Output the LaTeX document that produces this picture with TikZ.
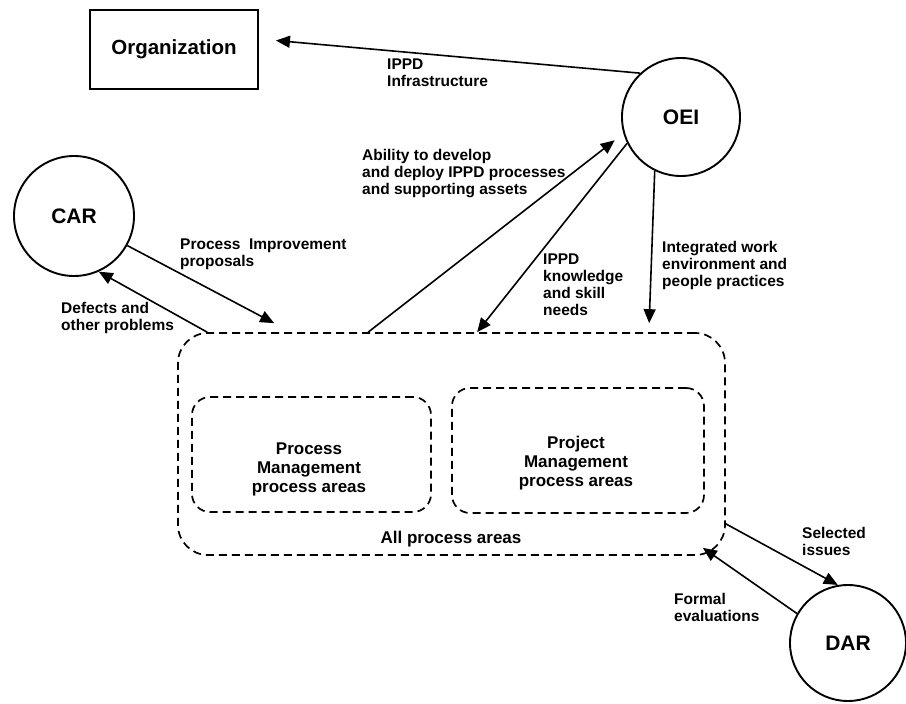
\documentclass[tikz,border=0pt]{standalone}
\usepackage{fontspec}
\setmainfont{Liberation Sans}
\usetikzlibrary{arrows.meta}
\begin{document}
\begin{tikzpicture}[x=1pt, y=-1pt, actor style/.style={circle, draw, line width=1.9pt, minimum size=118pt, inner sep=0pt, font=\fontsize{21}{23}\selectfont\bfseries}, area style/.style={rectangle, draw, dash pattern=on 8pt off 5pt, line width=1.7pt, rounded corners=#1, inner sep=0pt}, area text/.style={align=center, inner sep=0pt, font=\fontsize{17}{19}\selectfont\bfseries}, lbl/.style={anchor=north west, inner sep=0pt, align=left, font=\fontsize{15.5}{17}\selectfont\bfseries}, flow/.style={-{Triangle[length=14pt,width=12pt]}, line width=1.6pt}]
	\useasboundingbox (0,0) rectangle (906,704);
	\node[rectangle, draw, line width=1.9pt, minimum width=168pt, minimum height=79pt, font=\fontsize{20.5}{23}\selectfont\bfseries] (org) at (174,49.5) {Organization};
	\node[actor style] (oei) at (681,117) {OEI};
	\node[actor style, minimum size=120pt] (car) at (74,216) {CAR};
	\node[actor style, minimum size=116pt] (dar) at (848,643) {DAR};
	\node[area style=30pt, minimum width=547pt, minimum height=222pt] (all) at (451.5,444) {};
	\node[area style=18pt, minimum width=239pt, minimum height=115pt] (pmbox) at (311.5,454.5) {};
	\node[area style=18pt, minimum width=252pt, minimum height=125pt] (prjbox) at (578,450.5) {};
	\node[area text] (pmtext) at (309,469) {Process\\Management\\process areas};
	\node[area text] (prjtext) at (576,463) {Project\\Management\\process areas};
	\node[area text] (alltext) at (451,539) {All process areas};
	\draw[flow] (oei.133) -- ([xshift=17pt,yshift=9pt]org.east);
	\draw[flow, shorten >=11pt] ([xshift=191pt]all.north west) -- (oei.196);
	\draw[flow] (oei.206) -- ([xshift=300pt]all.north west);
	\draw[flow] (oei.244) -- ([xshift=472pt,yshift=9pt]all.north west);
	\draw[flow] (car.-29) -- ([xshift=97pt,yshift=9pt]all.north west);
	\draw[flow] ([xshift=30pt]all.north west) -- (car.-66);
	\draw[flow] ([yshift=32pt]all.south east) -- (dar.100);
	\draw[flow] (dar.150) -- ([xshift=-23pt,yshift=8pt]all.south east);
	\node[lbl] (infra) at (387,59) {IPPD\\Infrastructure};
	\node[lbl] (ability) at (362,149) {Ability to develop\\and deploy IPPD processes\\and supporting assets};
	\node[lbl] (proposals) at (180,239) {Process\ \ Improvement\\proposals};
	\node[lbl] (defects) at (61,302) {Defects and\\other problems};
	\node[lbl] (needs) at (543,254) {IPPD\\knowledge\\and skill\\needs};
	\node[lbl] (practices) at (662,241) {Integrated work\\environment and\\people practices};
	\node[lbl] (issues) at (802,527) {Selected\\issues};
	\node[lbl] (evals) at (674,593) {Formal\\evaluations};
\end{tikzpicture}
\end{document}
